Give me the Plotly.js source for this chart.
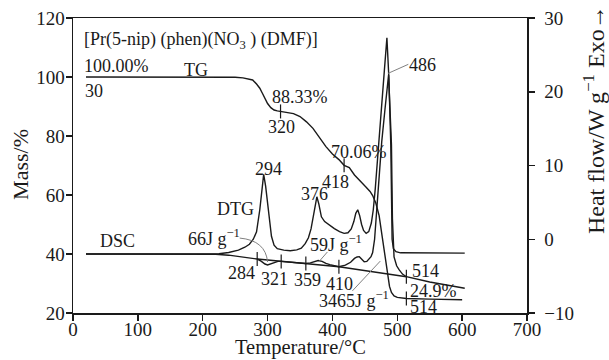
<!DOCTYPE html>
<html>
<head>
<meta charset="utf-8">
<script src="https://cdn.plot.ly/plotly-3.0.1.min.js"></script>
<style>html,body{margin:0;padding:0;background:#fff;}#chart{width:609px;height:360px;}</style>
</head>
<body>
<div id="chart"></div>
<script>
// ---- Data ----
// TG curve: temperature (°C) and mass (%)
const tgT = [20, 100, 200, 250, 262, 270, 277, 283, 288, 292, 296, 300, 305, 310, 315, 320, 330, 340, 350, 360, 370, 380, 390, 400, 410, 418, 426, 434, 445, 452, 458, 462, 467, 472, 477, 480, 483, 486, 488, 491, 495, 500, 507, 514, 550, 600];
const tgV = [100, 100, 100, 99.9, 99.7, 99.3, 99, 97.6, 96.2, 94.5, 92.6, 91, 89.6, 88.8, 88.5, 88.33, 88.1, 87.6, 86.6, 84.8, 82.6, 79.3, 76.4, 73.9, 72.0, 70.06, 69.3, 66.8, 64, 62.6, 61.2, 59.8, 57.2, 53, 45.5, 40.5, 35.5, 31, 29, 27, 25.8, 25.3, 25.0, 24.9, 24.7, 24.5];
// DTG curve (drawn on the mass scale)
const dtgT = [20, 100, 200, 225, 240, 255, 265, 272, 278, 283, 288, 291, 294, 297, 300, 303, 306, 310, 315, 325, 335, 345, 352, 358, 363, 367, 370, 373, 376, 379, 383, 388, 395, 403, 411, 418, 424, 429, 433, 436, 439, 442, 445, 448, 452, 456, 460, 463, 466, 469, 472, 476, 480, 484, 487, 490, 491.3, 492, 494, 498, 505, 604];
const dtgV = [40, 40, 40, 40.1, 40.5, 41.3, 42.3, 43.3, 45, 47.5, 55, 61.5, 67, 63, 57, 51, 46, 43, 41.8, 41.3, 41.1, 41.4, 42, 43.5, 45.5, 48.5, 52, 56, 59.4, 57, 52.6, 51, 49.8, 48.6, 47.6, 47, 47.2, 48.5, 51, 53.8, 55, 53, 50, 48, 47, 47.6, 50.5, 55, 62, 70, 78.6, 90, 102, 113.3, 100, 77, 60, 45, 41.8, 40.8, 40.4, 40.3];
// DSC curve (drawn on the mass scale)
const dscT = [20, 100, 200, 220, 240, 260, 284, 290, 296, 300, 304, 310, 316, 321, 340, 359, 366, 372, 378, 384, 390, 396, 410, 420, 428, 434, 438, 441.5, 445, 449, 453, 456, 459.5, 462, 465, 468, 471, 476, 481, 486.6, 491, 492.5, 495, 499, 503, 508, 514, 550, 604];
const dscV = [40, 40, 40, 39.9, 39.6, 39.1, 38.3, 37.6, 36.6, 36.3, 36.6, 37.2, 37.5, 37.5, 37.1, 36.8, 37.0, 37.5, 37.8, 37.5, 36.8, 36.4, 35.7, 36.2, 37.2, 38.5, 39.0, 39.1, 38.4, 37.4, 37.5, 38.2, 39.1, 40.5, 45, 54, 64, 78, 89, 100.7, 77, 52, 39, 36, 34.6, 33.2, 32.3, 30.5, 28.4];
// Marked points
const tgMarkT = [320, 418, 514];
const tgMarkV = [88.33, 70.06, 24.9];
const dscMarkT = [284, 321, 359, 410, 514];
const dscMarkV = [38.3, 37.5, 36.8, 35.7, 32.3];
// Tick values
const xTicks = [0, 100, 200, 300, 400, 500, 600, 700];
const yTicks = [20, 40, 60, 80, 100, 120];
const y2Ticks = [-10, 0, 10, 20, 30];

const FONT = 'Liberation Serif, Times New Roman, serif';
const INK = '#1a1a1a';
const curve = {color: INK, width: 1.4};

const traces = [
  {x: tgT, y: tgV, type: 'scatter', mode: 'lines', line: curve, hoverinfo: 'skip'},
  {x: dtgT, y: dtgV, type: 'scatter', mode: 'lines', line: curve, hoverinfo: 'skip'},
  {x: dscT, y: dscV, type: 'scatter', mode: 'lines', line: curve, hoverinfo: 'skip'},
  {x: dscMarkT, y: dscMarkV, type: 'scatter', mode: 'lines+markers', line: curve,
   marker: {symbol: 'line-ns', size: 10, line: {color: INK, width: 1.2}}, hoverinfo: 'skip'},
  {x: tgMarkT, y: tgMarkV, type: 'scatter', mode: 'markers',
   marker: {symbol: 'line-ns', size: 10, line: {color: INK, width: 1.2}}, hoverinfo: 'skip'},
  {x: [null], y: [null], type: 'scatter', mode: 'lines', yaxis: 'y2', hoverinfo: 'skip'}
];

function lab(text, x, y, opts) {
  return Object.assign({text: text, x: x, y: y, xref: 'x', yref: 'y', showarrow: false,
    font: {family: FONT, size: 18, color: INK}, xanchor: 'center', yanchor: 'middle'}, opts || {});
}

const annotations = [
  lab('[Pr(5-nip) (phen)(NO<sub>3</sub> ) (DMF)]', 13.8, 112.5, {xanchor: 'left'}),
  lab('100.00%', 13.8, 103.7, {xanchor: 'left'}),
  lab('30', 15.4, 95.3, {xanchor: 'left'}),
  lab('TG', 190, 102.4),
  lab('88.33%', 350, 93.1),
  lab('320', 321.5, 83.05),
  lab('70.06%', 441.5, 74.7),
  lab('418', 405.4, 64.4),
  lab('294', 300.8, 68.8),
  lab('376', 372.3, 60.3),
  lab('DTG', 250, 55.3),
  lab('DSC', 68.5, 44.4),
  lab('66J g<sup>−1</sup>', 217, 45.6),
  lab('284', 259.2, 33.4),
  lab('321', 310, 31.5),
  lab('359', 362.3, 31.2),
  lab('410', 410.8, 29.8),
  lab('59J g<sup>−1</sup>', 406, 43.4),
  lab('3465J g<sup>−1</sup>', 433.8, 24.6),
  lab('514', 543.8, 34.2),
  lab('24.9%', 556, 27.6),
  lab('514', 540.8, 22.2),
  lab('486', 539, 104.1),
  {text: 'Temperature/°C', xref: 'paper', yref: 'paper', x: 0.5, y: -0.118, showarrow: false,
   xanchor: 'center', yanchor: 'middle', font: {family: FONT, size: 20.5, color: INK}},
  {text: 'Mass/%', xref: 'paper', yref: 'paper', x: -0.117, y: 0.505, showarrow: false, textangle: -90,
   xanchor: 'center', yanchor: 'middle', font: {family: FONT, size: 22, color: INK}},
  {text: 'Heat flow/W g<sup>−1</sup> Exo→', xref: 'paper', yref: 'paper', x: 1.146, y: 0.655, showarrow: false, textangle: -90,
   xanchor: 'center', yanchor: 'middle', font: {family: FONT, size: 24, color: INK}}
];

const lead = {color: '#808080', width: 1};
const shapes = [
  {type: 'path', xref: 'x', yref: 'y', path: 'M 257,45.4 Q 297,44.6 300,37.3', line: lead},
  {type: 'line', xref: 'x', yref: 'y', x0: 392.3, y0: 40.7, x1: 380, y1: 37.6, line: lead},
  {type: 'line', xref: 'x', yref: 'y', x0: 430.8, y0: 27.5, x1: 473.8, y1: 37.6, line: lead},
  {type: 'line', xref: 'x', yref: 'y', x0: 485.5, y0: 101.2, x1: 517, y1: 104.3, line: lead}
];

const axisCommon = {showline: true, linecolor: INK, linewidth: 1.5, ticks: 'outside', ticklen: 6,
  tickwidth: 1.5, tickcolor: INK, showgrid: false, zeroline: false,
  tickfont: {family: FONT, size: 19, color: INK}};

const layout = {
  width: 609, height: 360,
  margin: {l: 73, r: 82, t: 18, b: 47},
  paper_bgcolor: '#fff', plot_bgcolor: '#fff',
  showlegend: false,
  xaxis: Object.assign({}, axisCommon, {range: [0, 700], tickvals: xTicks, mirror: true, ticklabelstandoff: -7}),
  yaxis: Object.assign({}, axisCommon, {range: [20, 120], tickvals: yTicks, ticklabelstandoff: -3}),
  yaxis2: Object.assign({}, axisCommon, {range: [-10, 30], tickvals: y2Ticks, overlaying: 'y', side: 'right', ticklabelstandoff: 6}),
  annotations: annotations,
  shapes: shapes
};

Plotly.newPlot('chart', traces, layout, {staticPlot: true, displayModeBar: false});
</script>
</body>
</html>
